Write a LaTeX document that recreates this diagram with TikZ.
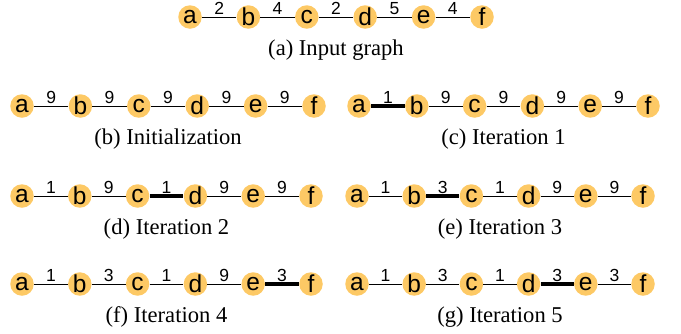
\documentclass[tikz,border=0pt]{standalone}
\usepackage{fontspec}
\setmainfont{Liberation Serif}
\newfontfamily\vtxfont{Liberation Sans}
\definecolor{vfill}{RGB}{253,201,101}
\tikzset{
  vtx/.style={circle,fill=vfill,draw=none,inner sep=0pt,minimum size=23.5pt,
    font=\vtxfont\fontsize{24.5}{24.5}\selectfont},
  wt/.style={midway,anchor=base,yshift=3pt,inner sep=0pt,
    font=\vtxfont\fontsize{17.5}{17.5}\selectfont},
  ethin/.style={line width=1pt,black},
  ethick/.style={line width=3.6pt,black},
  subcap/.style={anchor=base,inner sep=0pt,font=\fontsize{22.6}{22.6}\selectfont}
}
\newcommand{\drawrow}[6]{%
  \foreach \n [count=\i from 0] in {a,b,c,d,e,f}
    \node[vtx] (#1\n) at ({#2+\i*#3},{#4}) {\n};
  \foreach \u/\v/\w/\s in {#5}
    \draw[\s] (#1\u) -- node[wt] {\w} (#1\v);
  \node[subcap] (#1cap) at ({#2+2.5*#3},{#4+38}) {#6};
}
\begin{document}
\begin{tikzpicture}[x={(1pt,0)},y={(0,-1pt)}]
\useasboundingbox (0,0) rectangle (681,333);
\drawrow{A}{190}{58.4}{17}{a/b/2/ethin,b/c/4/ethin,c/d/2/ethin,d/e/5/ethin,e/f/4/ethin}{(a) Input graph}
\drawrow{B}{22}{58.4}{106}{a/b/9/ethin,b/c/9/ethin,c/d/9/ethin,d/e/9/ethin,e/f/9/ethin}{(b) Initialization}
\drawrow{C}{359}{57.8}{106}{a/b/1/ethick,b/c/9/ethin,c/d/9/ethin,d/e/9/ethin,e/f/9/ethin}{(c) Iteration 1}
\drawrow{D}{22}{57.8}{196}{a/b/1/ethin,b/c/9/ethin,c/d/1/ethick,d/e/9/ethin,e/f/9/ethin}{(d) Iteration 2}
\drawrow{E}{357}{57.2}{196}{a/b/1/ethin,b/c/3/ethick,c/d/1/ethin,d/e/9/ethin,e/f/9/ethin}{(e) Iteration 3}
\drawrow{F}{22}{57.8}{284}{a/b/1/ethin,b/c/3/ethin,c/d/1/ethin,d/e/9/ethin,e/f/3/ethick}{(f) Iteration 4}
\drawrow{G}{357}{57.2}{284}{a/b/1/ethin,b/c/3/ethin,c/d/1/ethin,d/e/3/ethick,e/f/3/ethin}{(g) Iteration 5}
\end{tikzpicture}
\end{document}
